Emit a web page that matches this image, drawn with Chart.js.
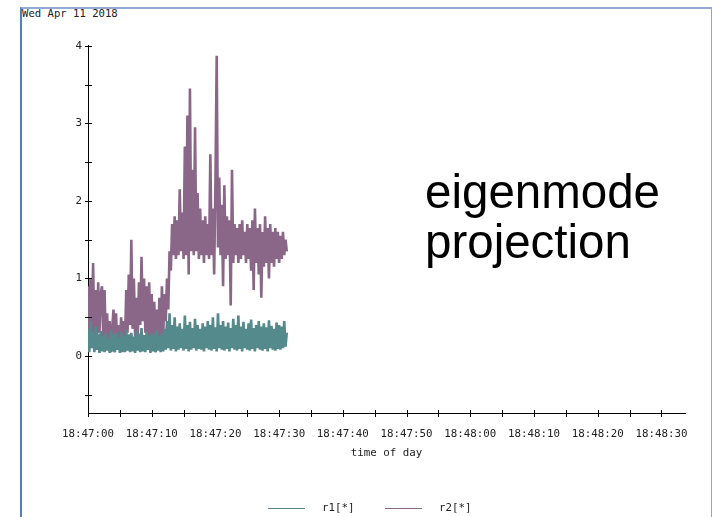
<!DOCTYPE html>
<html>
<head>
<meta charset="utf-8">
<script src="https://cdn.jsdelivr.net/npm/chart.js@4"></script>
<style>
  body { margin: 0; background: #fff; }
  #wrap { position: relative; width: 712px; height: 517px; overflow: hidden; }
  #frame { position: absolute; left: 20px; top: 7px; width: 689px; height: 520px;
           border-left: 2px solid #4f80c2; border-top: 2px solid #93abd3; border-right: 2px solid #8fa5c9; }
  #date { position: absolute; left: 22px; top: 7px; font: 10.6px "DejaVu Sans Mono", monospace; color: #222; }
  #label { position: absolute; left: 425px; top: 167px; font: 47.5px "Liberation Sans", Arial, sans-serif;
           line-height: 50px; color: #000; }
  canvas { position: absolute; left: 0; top: 0; }
</style>
</head>
<body>
<div id="wrap">
  <div id="frame"></div>
  <div id="date">Wed Apr 11 2018</div>
  <canvas id="chart" width="712" height="517"></canvas>
  <div id="label">eigenmode<br>projection</div>
</div>
<script>
// series labels and sample spacing (seconds after 18:47:00)
var seriesNames = ['r1[*]', 'r2[*]'];
var sampleStep = 0.2;

// values, one every 0.2 s
var r1Values = [
    0.35, 0.05, 0.45, 0.1, 0.3, 0.05, 0.38, 0.08, 0.28, 0.04,
    0.32, 0.06, 0.25, 0.05, 0.3, 0.07, 0.22, 0.04, 0.33, 0.06,
    0.27, 0.05, 0.3, 0.08, 0.24, 0.04, 0.31, 0.06, 0.26, 0.05,
    0.34, 0.07, 0.28, 0.05, 0.3, 0.06, 0.25, 0.04, 0.32, 0.07,
    0.29, 0.05, 0.36, 0.06, 0.27, 0.05, 0.31, 0.08, 0.26, 0.04,
    0.3, 0.06, 0.28, 0.05, 0.33, 0.07, 0.25, 0.05, 0.3, 0.06,
    0.35, 0.08, 0.45, 0.1, 0.55, 0.07, 0.4, 0.09, 0.5, 0.06,
    0.38, 0.08, 0.42, 0.1, 0.35, 0.07, 0.52, 0.09, 0.4, 0.06,
    0.44, 0.08, 0.36, 0.1, 0.48, 0.07, 0.4, 0.09, 0.35, 0.08,
    0.42, 0.06, 0.38, 0.1, 0.45, 0.08, 0.4, 0.07, 0.5, 0.09,
    0.37, 0.06, 0.55, 0.1, 0.4, 0.08, 0.45, 0.07, 0.38, 0.09,
    0.43, 0.06, 0.36, 0.1, 0.48, 0.08, 0.4, 0.07, 0.52, 0.09,
    0.38, 0.06, 0.44, 0.1, 0.35, 0.08, 0.42, 0.07, 0.47, 0.09,
    0.36, 0.06, 0.4, 0.1, 0.45, 0.08, 0.38, 0.07, 0.42, 0.09,
    0.37, 0.06, 0.46, 0.1, 0.39, 0.08, 0.35, 0.07, 0.43, 0.09,
    0.4, 0.08, 0.38, 0.1, 0.45, 0.12, 0.3
];

var r2Values = [
    0.9, 0.2, 1.0, 0.3, 1.2, 0.25, 0.85, 0.15, 0.95, 0.3, 0.8,
    0.9, 0.2, 0.85, 0.1, 0.55,
    0.1, 0.45, 0.05, 0.35,
    0.6, 0.05, 0.55, 0.1, 0.4,
    0.08, 0.5, 0.05, 0.45, 0.15,
    0.85, 0.3, 1.05, 0.4, 1.5, 0.35, 1.0,
    0.25, 0.75, 0.2,
    0.95, 0.4, 1.28, 0.45, 1.0,
    0.3, 0.9, 0.25, 0.95, 0.2, 0.8,
    0.15, 0.7, 0.05, 0.6, 0.08,
    0.75, 0.2, 0.9, 0.25, 0.8,
    0.45, 1.0, 0.6, 1.35,
    1.1,
    1.7, 1.3, 1.8, 1.25, 1.75,
    1.3, 2.15, 1.35, 1.85, 1.25,
    2.7, 1.3, 3.1, 1.05, 3.45,
    1.35, 2.4, 1.3, 2.95, 1.35,
    2.1, 1.25, 1.9, 1.3, 1.75,
    1.2, 1.8, 1.3, 1.7, 1.25,
    2.6, 1.3, 1.9, 1.05, 2.2,
    3.87, 1.4, 2.3, 1.3, 1.95,
    0.9, 2.2, 1.25, 1.8, 1.3,
    1.75, 0.65, 2.4, 1.2, 1.7,
    1.3, 1.65, 1.2, 1.7, 1.25,
    1.75, 1.3, 1.6, 1.2, 1.7,
    1.25, 1.65, 1.1, 1.75, 0.85,
    1.9, 1.2, 1.65, 1.05, 1.7,
    0.75, 1.6, 1.15, 1.8, 1.2,
    1.65, 1.0, 1.7, 1.2, 1.6,
    1.15, 1.65, 1.25, 1.6, 1.2,
    1.55, 1.25, 1.6, 1.3, 1.5, 1.35
];

// axis ranges
var xMin = 0, xMax = 93.7, xStep = 5;
var yMin = -0.735, yMax = 4.01, yStep = 0.5;

function toPoints(values) {
    let pts = [];
    for (let i = 0; i < values.length; i++) {
        pts.push({ x: i * sampleStep, y: values[i] });
    }
    return pts;
}

function timeLabel(sec) {
    let total = 18 * 3600 + 47 * 60 + Math.round(sec);
    let h = Math.floor(total / 3600), m = Math.floor(total / 60) % 60, s = total % 60;
    let pad = function (n) { return (n < 10 ? '0' : '') + n; };
    return pad(h) + ':' + pad(m) + ':' + pad(s);
}

var monoFont = { family: '"DejaVu Sans Mono", monospace', size: 10.8 };
var colors = ['#558a8c', '#8a6688'];

// tick marks that cross the axis line, like the original plot
var crossTicks = {
    id: 'crossTicks',
    afterDraw(chart) {
        const ctx = chart.ctx, area = chart.chartArea;
        const xs = chart.scales.x, ys = chart.scales.y;
        ctx.save();
        ctx.strokeStyle = '#000';
        ctx.lineWidth = 1;
        ctx.beginPath();
        xs.ticks.forEach(function (t) {
            let px = Math.round(xs.getPixelForValue(t.value)) + 0.5;
            ctx.moveTo(px, area.bottom - 3);
            ctx.lineTo(px, area.bottom + 4);
        });
        ys.ticks.forEach(function (t) {
            let py = Math.round(ys.getPixelForValue(t.value)) + 0.5;
            ctx.moveTo(area.left - 3, py);
            ctx.lineTo(area.left + 4, py);
        });
        ctx.stroke();
        ctx.restore();
    }
};

// legend drawn below the axis title
var bottomLegend = {
    id: 'bottomLegend',
    afterDraw(chart) {
        const ctx = chart.ctx;
        let x = 268, y = 508.5;
        ctx.save();
        ctx.font = monoFont.size + 'px ' + monoFont.family;
        ctx.textBaseline = 'middle';
        chart.data.datasets.forEach(function (ds) {
            ctx.strokeStyle = ds.borderColor;
            ctx.lineWidth = 1;
            ctx.beginPath();
            ctx.moveTo(x, y);
            ctx.lineTo(x + 37, y);
            ctx.stroke();
            ctx.fillStyle = '#222';
            ctx.fillText(ds.label, x + 54, y);
            x += 117;
        });
        ctx.restore();
    }
};

new Chart(document.getElementById('chart'), {
    type: 'line',
    data: {
        datasets: [
            { label: seriesNames[0], data: toPoints(r1Values), borderColor: colors[0], borderWidth: 2.6, pointRadius: 0, tension: 0 },
            { label: seriesNames[1], data: toPoints(r2Values), borderColor: colors[1], borderWidth: 2.6, pointRadius: 0, tension: 0 }
        ]
    },
    options: {
        responsive: false,
        animation: false,
        layout: { padding: { left: 0, right: 27, top: 45, bottom: 57 } },
        plugins: { legend: { display: false }, tooltip: { enabled: false } },
        scales: {
            x: {
                type: 'linear',
                min: xMin, max: xMax,
                grid: { display: false, drawTicks: false },
                border: { display: true, color: '#000', width: 1 },
                ticks: {
                    stepSize: xStep, includeBounds: false, autoSkip: false, maxRotation: 0,
                    padding: 15, color: '#222', font: monoFont,
                    callback: function (v) { return v % 10 === 0 ? timeLabel(v) : ''; }
                },
                title: { display: true, text: 'time of day', color: '#222', font: monoFont, padding: 0 },
                afterFit: function (s) { s.height = 47; s.paddingLeft = 0; s.paddingRight = 0; }
            },
            y: {
                min: yMin, max: yMax,
                grid: { display: false, drawTicks: false },
                border: { display: true, color: '#000', width: 1 },
                ticks: {
                    stepSize: yStep, includeBounds: false, padding: 6, color: '#222', font: monoFont,
                    callback: function (v) { return Number.isInteger(v) ? String(v) : ''; }
                },
                afterFit: function (s) { s.width = 88; s.paddingTop = 0; s.paddingBottom = 0; }
            }
        }
    },
    plugins: [crossTicks, bottomLegend]
});
</script>
</body>
</html>
